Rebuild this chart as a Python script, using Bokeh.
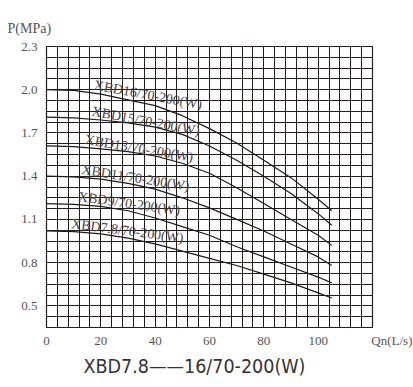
import numpy as np
from bokeh.plotting import figure
from bokeh.models import Range1d, FixedTicker, Title, ColumnDataSource, CustomJSTickFormatter
from bokeh.core.properties import value
from bokeh.embed import file_html
from bokeh.resources import INLINE

# ---- data ----
flow = [0, 10, 20, 30, 40, 50, 60, 70, 80, 90, 100, 105]  # Qn (L/s)
p_16 = [2.00, 1.995, 1.97, 1.93, 1.89, 1.82, 1.73, 1.63, 1.51, 1.39, 1.24, 1.16]
p_15 = [1.81, 1.805, 1.79, 1.77, 1.74, 1.69, 1.61, 1.51, 1.40, 1.28, 1.14, 1.06]
p_13 = [1.61, 1.605, 1.59, 1.57, 1.54, 1.49, 1.42, 1.32, 1.21, 1.10, 0.99, 0.92]
p_11 = [1.40, 1.395, 1.38, 1.35, 1.31, 1.25, 1.18, 1.10, 1.02, 0.93, 0.84, 0.78]
p_9 = [1.21, 1.205, 1.19, 1.16, 1.11, 1.05, 0.99, 0.91, 0.84, 0.77, 0.70, 0.66]
p_78 = [1.02, 1.015, 1.00, 0.97, 0.93, 0.88, 0.83, 0.78, 0.72, 0.66, 0.59, 0.555]
series_names = ["XBD16/70-200(W)", "XBD15/70-200(W)", "XBD13/70-200(W)",
                "XBD11/70-200(W)", "XBD9/70-200(W)", "XBD7.8/70-200(W)"]
series_values = [p_16, p_15, p_13, p_11, p_9, p_78]
x_ticks = [0, 20, 40, 60, 80, 100]
y_ticks = [0.5, 0.8, 1.1, 1.4, 1.7, 2.0, 2.3]
x_axis_title = "Qn(L/s)"
y_axis_title = "P(MPa)"
chart_title = "XBD7.8——16/70-200(W)"

# ---- layout / style ----
X_MIN, X_MAX, X_STEP = 0, 120, 4
Y_MIN, Y_MAX, Y_STEP = 0.35, 2.3, 0.075
label_start_q = [17.0, 16.2, 13.7, 12.5, 11.3, 8.8]
label_angle_deg = [-10.5, -10.5, -9.5, -9, -8, -7.5]
GRID = "#241c1c"
SERIF = "Liberation Serif"
NBSP = "\u00a0"

p = figure(width=412, height=384, output_backend="svg", toolbar_location=None,
           x_range=Range1d(X_MIN, X_MAX), y_range=Range1d(Y_MIN, Y_MAX),
           min_border_left=46, min_border_right=40, min_border_top=46,
           min_border_bottom=57, title=y_axis_title)
p.background_fill_color = "white"
p.border_fill_color = "white"
p.outline_line_color = GRID
p.outline_line_width = 1.2

# y-axis title sits above the frame, at the far left
p.title.align = "left"
p.title.offset = -39
p.title.standoff = 22
p.title.text_font = SERIF
p.title.text_font_size = "14px"
p.title.text_font_style = "normal"
p.title.text_color = "#555555"

grid_x = list(np.arange(X_MIN, X_MAX + 0.001, X_STEP))
grid_y = list(np.round(np.arange(Y_MIN, Y_MAX + 0.001, Y_STEP), 4))
p.xgrid.ticker = FixedTicker(ticks=grid_x)
p.ygrid.ticker = FixedTicker(ticks=grid_y)
for g in (p.xgrid, p.ygrid):
    g.grid_line_color = GRID
    g.grid_line_width = 1
    g.grid_line_alpha = 1

# x-axis title is shown as the label of the range end, on the tick-label line
p.xaxis.ticker = FixedTicker(ticks=x_ticks + [X_MAX])
p.xaxis.major_label_overrides = {X_MAX: NBSP * 15 + x_axis_title}
p.yaxis.ticker = FixedTicker(ticks=y_ticks)
p.yaxis.formatter = CustomJSTickFormatter(code="return tick.toFixed(1);")
for ax in (p.xaxis, p.yaxis):
    ax.axis_line_color = None
    ax.major_tick_line_color = None
    ax.minor_tick_line_color = None
    ax.major_tick_out = 0
    ax.major_tick_in = 0
    ax.major_label_text_font = SERIF
    ax.major_label_text_font_size = "13px"
    ax.major_label_text_color = "#555555"
p.yaxis.major_label_standoff = 9
p.xaxis.major_label_standoff = 5

for name, vals in zip(series_names, series_values):
    p.line(flow, vals, line_color="#1e1a1a", line_width=1.2)

# curve labels, placed on the curves
lx, ly, la = [], [], []
for q0, ang, vals in zip(label_start_q, label_angle_deg, series_values):
    lx.append(q0)
    ly.append(float(np.interp(q0, flow, vals)) + 0.005)
    la.append(np.deg2rad(ang))
src = ColumnDataSource(dict(x=lx, y=ly, t=series_names, a=la))
p.text(x="x", y="y", text="t", angle="a", source=src,
       text_font=value(SERIF), text_font_size="14px", text_color="#4a4444",
       text_baseline="bottom", text_align="left")

# chart title below the axis
p.add_layout(Title(text=chart_title, align="left", offset=37, standoff=5,
                   text_font="'Liberation Sans Narrow', 'DejaVu Sans Condensed', sans-serif",
                   text_font_size="19.5px", text_font_style="normal",
                   text_color="#333333"), "below")

open("out.html", "w").write(file_html(p, INLINE))
